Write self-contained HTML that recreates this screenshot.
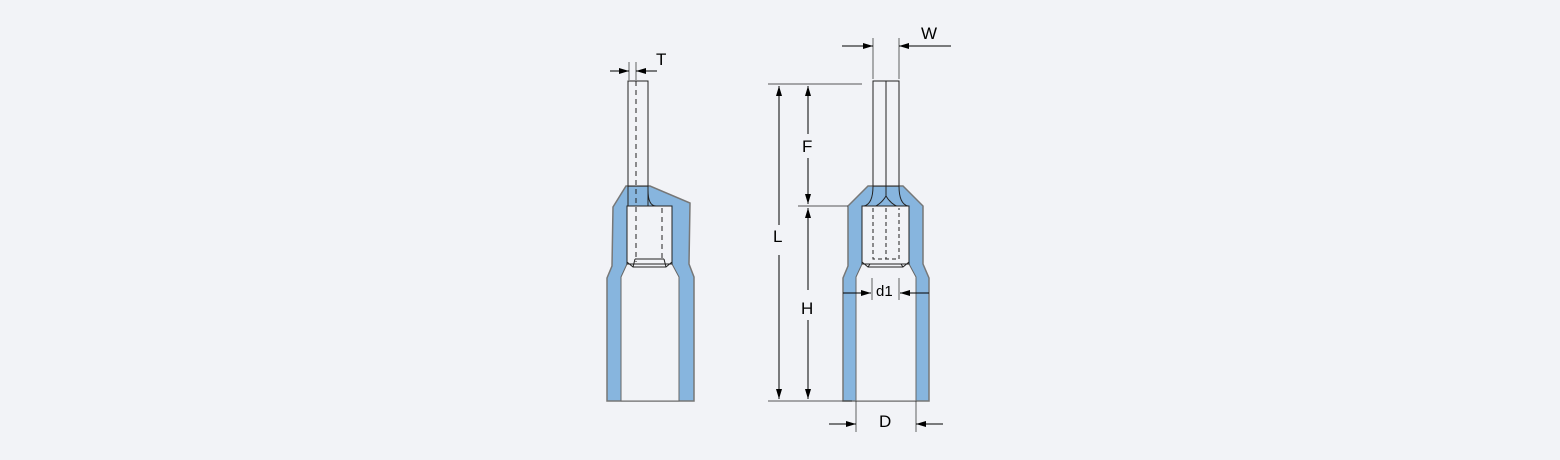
<!DOCTYPE html>
<html><head><style>body{margin:0;background:#f2f3f7}svg{display:block}</style></head><body>
<svg width="1560" height="460" viewBox="0 0 1560 460" xmlns="http://www.w3.org/2000/svg" font-family="Liberation Sans, sans-serif">
<defs><marker id="a" viewBox="0 0 10 6" refX="10" refY="3" markerWidth="10" markerHeight="6" orient="auto-start-reverse" markerUnits="userSpaceOnUse"><path d="M0,0L10,3L0,6z" fill="#000"/></marker></defs>
<rect width="1560" height="460" fill="#f2f3f7"/>
<!-- LEFT -->
<polygon points="613,207 626,186 650,186 690,203 689,264 694,277 694,401 607,401 607,278 612,266" fill="#87b5de" stroke="#777" stroke-width="1.5"/>
<polygon points="627,206 672,206 672,264 679,277 679,401 621,401 621,277 627,264" fill="#f2f3f7" stroke="#666" stroke-width="1"/>
<rect x="628" y="81" width="20" height="105" fill="#f2f3f7" stroke="#222" stroke-width="1"/>
<rect x="628" y="186" width="20" height="20" fill="none" stroke="#222" stroke-width="1"/>
<path d="M648,190 Q648,206 656,206" fill="none" stroke="#222"/>
<rect x="627" y="206" width="45" height="58" fill="#f2f3f7" stroke="#222"/>
<line x1="636" y1="81" x2="636" y2="262" stroke="#222" stroke-dasharray="5,4"/>
<line x1="662" y1="208" x2="662" y2="262" stroke="#222" stroke-dasharray="5,4"/>
<path d="M627,262 L633,267 L666,267 L672,262 M635,259 L664,259 M633,267 L635,259 M666,267 L664,259" fill="none" stroke="#222"/>
<line x1="629" y1="62" x2="629" y2="80" stroke="#222" stroke-width=".7"/>
<line x1="636" y1="62" x2="636" y2="80" stroke="#222" stroke-width=".7"/>
<line x1="610" y1="71" x2="629" y2="71" stroke="#000" marker-end="url(#a)"/>
<line x1="657" y1="71" x2="636" y2="71" stroke="#000" marker-end="url(#a)"/>
<text x="656" y="65" font-size="17">T</text>
<!-- RIGHT -->
<polygon points="848,206 868,186 903,186 923,206 923,264 929,278 929,401 843,401 843,278 848,266" fill="#87b5de" stroke="#777" stroke-width="1.5"/>
<polygon points="862,206 909,206 909,264 916,277 916,401 856,401 856,277 862,264" fill="#f2f3f7" stroke="#666"/>
<rect x="873" y="81" width="26" height="105" fill="#f2f3f7" stroke="#222"/>
<line x1="886" y1="81" x2="886" y2="196" stroke="#222"/>
<path d="M873,186 Q873,204 864,206 M899,186 Q899,204 908,206 M886,196 Q880,206 870,208 M886,196 Q892,206 902,208" fill="none" stroke="#222"/>
<rect x="862" y="206" width="47" height="58" fill="#f2f3f7" stroke="#222"/>
<path d="M873,208 V259 H899 V208 M886,208 V259" fill="none" stroke="#222" stroke-dasharray="4,3"/>
<path d="M862,262 L868,267 L903,267 L909,262 M868,267 L870,264 M903,267 L901,264" fill="none" stroke="#222"/>
<!-- W -->
<line x1="873" y1="38" x2="873" y2="79" stroke="#222" stroke-width=".7"/>
<line x1="899" y1="38" x2="899" y2="79" stroke="#222" stroke-width=".7"/>
<line x1="842" y1="46" x2="873" y2="46" stroke="#000" marker-end="url(#a)"/>
<line x1="951" y1="46" x2="899" y2="46" stroke="#000" marker-end="url(#a)"/>
<text x="921" y="39" font-size="17">W</text>
<!-- L -->
<line x1="768" y1="84" x2="862" y2="84" stroke="#222" stroke-width=".7"/>
<line x1="768" y1="401" x2="852" y2="401" stroke="#222" stroke-width=".7"/>
<line x1="779" y1="225" x2="779" y2="86" stroke="#000" marker-end="url(#a)"/>
<line x1="779" y1="255" x2="779" y2="399" stroke="#000" marker-end="url(#a)"/>
<text x="773" y="242" font-size="17">L</text>
<!-- F -->
<line x1="808" y1="134" x2="808" y2="86" stroke="#000" marker-end="url(#a)"/>
<line x1="808" y1="158" x2="808" y2="204" stroke="#000" marker-end="url(#a)"/>
<text x="802" y="152" font-size="17">F</text>
<line x1="798" y1="206" x2="848" y2="206" stroke="#222" stroke-width=".7"/>
<!-- H -->
<line x1="808" y1="290" x2="808" y2="208" stroke="#000" marker-end="url(#a)"/>
<line x1="808" y1="320" x2="808" y2="399" stroke="#000" marker-end="url(#a)"/>
<text x="801" y="314" font-size="17">H</text>
<!-- d1 -->
<line x1="872" y1="278" x2="872" y2="300" stroke="#222" stroke-width=".7"/>
<line x1="899" y1="278" x2="899" y2="300" stroke="#222" stroke-width=".7"/>
<line x1="843" y1="293" x2="871" y2="293" stroke="#000" marker-end="url(#a)"/>
<line x1="929" y1="293" x2="900" y2="293" stroke="#000" marker-end="url(#a)"/>
<text x="876" y="296" font-size="15">d1</text>
<!-- D -->
<line x1="856" y1="401" x2="856" y2="432" stroke="#222" stroke-width=".7"/>
<line x1="916" y1="401" x2="916" y2="432" stroke="#222" stroke-width=".7"/>
<line x1="829" y1="424" x2="856" y2="424" stroke="#000" marker-end="url(#a)"/>
<line x1="943" y1="424" x2="916" y2="424" stroke="#000" marker-end="url(#a)"/>
<text x="879" y="427" font-size="17">D</text>
</svg>
</body></html>
